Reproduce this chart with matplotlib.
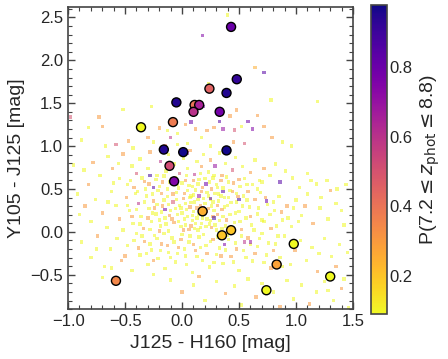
import matplotlib
matplotlib.use("Agg")
import matplotlib.pyplot as plt
from matplotlib.ticker import MultipleLocator

plt.rcParams['font.family'] = ['Liberation Sans', 'DejaVu Sans']

# selected candidates: colour J125-H160, colour Y105-J125, P(7.2<=z<=8.8)
sel_x = [0.43, 0.48, 0.24, 0.39, -0.05, 0.11, 0.15, 0.10, 0.33, -0.08, -0.36, -0.16,
         0.01, 0.39, -0.11, -0.07, 0.18, 0.43, 0.35, 0.98, 0.83, 1.30, -0.58, 0.74]
sel_y = [2.39, 1.78, 1.67, 1.62, 1.51, 1.48, 1.48, 1.40, 1.40, 1.28, 1.22, 0.96,
         0.93, 0.95, 0.77, 0.59, 0.24, 0.02, -0.04, -0.14, -0.38, -0.52, -0.57, -0.68]
sel_p = [0.80, 0.92, 0.45, 0.95, 0.95, 0.40, 0.65, 0.60, 0.78, 0.38, 0.03, 0.95,
         0.97, 0.97, 0.52, 0.75, 0.25, 0.20, 0.20, 0.05, 0.28, 0.08, 0.35, 0.05]

# full catalogue (read by eye, background cloud)
bg_points = [
    (0.40, 2.53, 0.05), (0.18, 2.29, 0.75), (0.64, 1.92, 0.25), (0.72, 1.86, 0.85), (0.78, 1.54, 0.05),
    (1.19, 1.52, 0.05), (-0.27, 1.46, 0.05), (0.23, 1.73, 0.08), (0.39, 1.59, 0.05), (0.19, 1.46, 0.8),
    (0.48, 1.42, 0.3),
    (-0.98, 1.34, 0.5), (-0.73, 1.34, 0.3), (-0.70, 1.23, 0.3), (-0.52, 1.43, 0.05), (-0.82, 1.22, 0.05),
    (-0.88, 1.07, 0.05), (-0.58, 1.02, 0.5), (-0.67, 1.00, 0.05), (-0.47, 1.06, 0.3), (-0.43, 0.98, 0.05),
    (-0.36, 1.19, 0.5), (-0.30, 1.10, 0.3), (-0.25, 1.05, 0.05), (-0.20, 1.21, 0.3), (-0.13, 1.18, 0.05),
    (-0.10, 1.10, 0.6), (-0.04, 1.15, 0.05), (0.03, 1.25, 0.3), (0.08, 1.28, 0.8), (0.12, 1.20, 0.3),
    (0.17, 1.10, 0.05), (0.22, 1.18, 0.3), (0.28, 1.22, 0.3), (0.33, 1.29, 0.85), (0.36, 1.20, 0.7),
    (0.42, 1.35, 0.3), (0.46, 1.19, 0.5), (0.52, 1.23, 0.05), (0.58, 1.29, 0.8), (0.62, 1.20, 0.75),
    (0.66, 1.36, 0.3), (0.72, 1.23, 0.3), (0.79, 1.10, 0.3), (0.88, 1.05, 0.05), (0.96, 1.00, 0.05),
    (0.25, 1.00, 0.05), (0.05, 1.03, 0.05), (-0.15, 1.00, 0.4), (0.45, 1.05, 0.3), (0.55, 1.03, 0.5),
    (-0.04, 1.02, 0.05),
    (-0.95, 0.78, 0.05), (-0.86, 0.72, 0.05), (-0.78, 0.81, 0.3), (-0.72, 0.66, 0.05), (-0.65, 0.88, 0.05),
    (-0.61, 0.74, 0.3), (-0.55, 0.62, 0.05), (-0.52, 0.91, 0.3), (-0.48, 0.55, 0.05), (-0.44, 0.77, 0.05),
    (-0.40, 0.68, 0.5), (-0.37, 0.85, 0.05), (-0.33, 0.59, 0.3), (-0.30, 0.74, 0.05), (-0.28, 0.93, 0.3),
    (-0.25, 0.52, 0.85), (-0.22, 0.66, 0.05), (-0.19, 0.82, 0.6), (-0.17, 0.58, 0.3), (-0.14, 0.71, 0.05),
    (-0.12, 0.90, 0.05), (-0.09, 0.62, 0.3), (-0.07, 0.79, 0.05), (-0.04, 0.55, 0.05), (-0.02, 0.68, 0.5),
    (0.01, 0.86, 0.05), (0.03, 0.60, 0.3), (0.05, 0.74, 0.05), (0.07, 0.95, 0.3), (0.09, 0.53, 0.05),
    (0.11, 0.67, 0.6), (0.13, 0.82, 0.05), (0.15, 0.61, 0.05), (0.17, 0.76, 0.3), (0.19, 0.90, 0.05),
    (0.21, 0.56, 0.8), (0.23, 0.70, 0.05), (0.25, 0.84, 0.3), (0.27, 0.63, 0.05), (0.29, 0.77, 0.7),
    (0.31, 0.52, 0.05), (0.33, 0.92, 0.05), (0.35, 0.66, 0.3), (0.38, 0.80, 0.05), (0.41, 0.58, 0.05),
    (0.44, 0.72, 0.5), (0.47, 0.87, 0.05), (0.50, 0.61, 0.3), (0.53, 0.76, 0.05), (0.57, 0.55, 0.05),
    (0.60, 0.69, 0.3), (0.64, 0.84, 0.05), (0.68, 0.60, 0.05), (0.72, 0.74, 0.3), (0.77, 0.66, 0.05),
    (0.82, 0.79, 0.05), (0.86, 0.58, 0.85), (0.91, 0.71, 0.05), (0.97, 0.63, 0.05), (1.03, 0.52, 0.05),
    (1.10, 0.68, 0.05), (1.18, 0.56, 0.05), (1.27, 0.60, 0.05), (1.36, 0.50, 0.05), (0.74, 0.36, 0.8),
    (-0.92, 0.44, 0.05), (-0.85, 0.30, 0.3), (-0.80, 0.12, 0.05), (-0.76, 0.38, 0.05), (-0.70, 0.22, 0.3),
    (-0.66, 0.05, 0.05), (-0.62, 0.47, 0.05), (-0.58, 0.31, 0.05), (-0.55, 0.15, 0.3), (-0.52, 0.02, 0.05),
    (-0.49, 0.40, 0.3), (-0.46, 0.25, 0.05), (-0.43, 0.10, 0.05), (-0.41, 0.45, 0.05), (-0.38, 0.33, 0.6),
    (-0.36, 0.18, 0.05), (-0.34, 0.04, 0.3), (-0.31, 0.42, 0.05), (-0.29, 0.27, 0.05), (-0.27, 0.12, 0.05),
    (-0.25, 0.36, 0.3), (-0.23, 0.21, 0.05), (-0.21, 0.48, 0.05), (-0.19, 0.07, 0.05), (-0.17, 0.30, 0.3),
    (-0.15, 0.16, 0.05), (-0.13, 0.41, 0.05), (-0.12, 0.01, 0.05), (-0.10, 0.25, 0.05), (-0.08, 0.35, 0.5),
    (-0.07, 0.11, 0.3), (-0.05, 0.46, 0.05), (-0.04, 0.20, 0.05), (-0.02, 0.31, 0.05), (-0.01, 0.06, 0.05),
    (0.01, 0.39, 0.3), (0.02, 0.15, 0.05), (0.04, 0.26, 0.05), (0.05, 0.48, 0.05), (0.06, 0.03, 0.3),
    (0.08, 0.34, 0.05), (0.09, 0.19, 0.05), (0.10, 0.43, 0.05), (0.12, 0.10, 0.05), (0.13, 0.28, 0.3),
    (0.14, 0.38, 0.05), (0.16, 0.05, 0.05), (0.17, 0.47, 0.3), (0.18, 0.16, 0.05), (0.20, 0.33, 0.05),
    (0.21, 0.24, 0.5), (0.23, 0.42, 0.05), (0.24, 0.09, 0.05), (0.26, 0.30, 0.05), (0.27, 0.18, 0.3),
    (0.29, 0.45, 0.05), (0.30, 0.02, 0.05), (0.32, 0.36, 0.05), (0.33, 0.13, 0.05), (0.35, 0.26, 0.3),
    (0.37, 0.40, 0.05), (0.38, 0.07, 0.05), (0.40, 0.31, 0.05), (0.42, 0.20, 0.05), (0.44, 0.47, 0.3),
    (0.46, 0.11, 0.05), (0.48, 0.35, 0.05), (0.50, 0.24, 0.05), (0.52, 0.03, 0.3), (0.54, 0.42, 0.05),
    (0.56, 0.16, 0.05), (0.59, 0.29, 0.05), (0.61, 0.08, 0.05), (0.64, 0.38, 0.3), (0.66, 0.21, 0.05),
    (0.69, 0.46, 0.05), (0.72, 0.12, 0.05), (0.75, 0.32, 0.05), (0.78, 0.04, 0.3), (0.81, 0.25, 0.05),
    (0.85, 0.41, 0.05), (0.88, 0.14, 0.05), (0.92, 0.30, 0.3), (0.96, 0.06, 0.05), (1.00, 0.37, 0.05),
    (1.05, 0.19, 0.05), (1.10, 0.44, 0.05), (1.15, 0.10, 0.3), (1.21, 0.28, 0.05), (1.28, 0.15, 0.05),
    (1.35, 0.33, 0.05), (1.42, 0.08, 0.05),
    (0.00, 0.22, 0.05), (0.07, 0.29, 0.3), (0.11, 0.35, 0.05), (0.15, 0.20, 0.05), (0.19, 0.28, 0.7),
    (0.22, 0.15, 0.05), (0.25, 0.38, 0.05), (0.28, 0.25, 0.05), (0.31, 0.31, 0.3), (-0.06, 0.27, 0.05),
    (-0.11, 0.19, 0.3), (0.03, 0.08, 0.05), (0.09, 0.13, 0.05), (0.14, 0.02, 0.05), (0.26, 0.05, 0.3),
    (0.36, 0.18, 0.05), (0.41, 0.40, 0.05), (-0.16, 0.37, 0.05), (-0.20, 0.14, 0.05), (-0.24, 0.28, 0.3),
    (0.25, 0.39, 0.85), (0.15, 0.42, 0.7), (0.28, 0.16, 0.9),
    (-0.88, -0.12, 0.05), (-0.80, -0.30, 0.05), (-0.74, -0.05, 0.3), (-0.68, -0.40, 0.05), (-0.63, -0.20, 0.05),
    (-0.57, -0.08, 0.05), (-0.53, -0.33, 0.3), (-0.48, -0.16, 0.05), (-0.44, -0.45, 0.05), (-0.40, -0.02, 0.05),
    (-0.37, -0.27, 0.05), (-0.33, -0.11, 0.3), (-0.30, -0.38, 0.05), (-0.27, -0.21, 0.05), (-0.24, -0.04, 0.05),
    (-0.21, -0.31, 0.05), (-0.18, -0.14, 0.3), (-0.15, -0.43, 0.05), (-0.12, -0.24, 0.05), (-0.09, -0.07, 0.05),
    (-0.06, -0.35, 0.05), (-0.03, -0.18, 0.3), (0.00, -0.03, 0.05), (0.03, -0.28, 0.05), (0.06, -0.12, 0.05),
    (0.09, -0.47, 0.05), (0.12, -0.22, 0.3), (0.15, -0.06, 0.05), (0.18, -0.33, 0.05), (0.21, -0.16, 0.05),
    (0.24, -0.41, 0.05), (0.27, -0.09, 0.3), (0.30, -0.26, 0.05), (0.33, -0.19, 0.05), (0.36, -0.37, 0.05),
    (0.40, -0.04, 0.05), (0.43, -0.29, 0.3), (0.47, -0.13, 0.05), (0.50, -0.45, 0.05), (0.54, -0.22, 0.05),
    (0.58, -0.07, 0.3), (0.62, -0.34, 0.05), (0.66, -0.17, 0.05), (0.70, -0.02, 0.05), (0.74, -0.27, 0.05),
    (0.78, -0.42, 0.3), (0.82, -0.14, 0.05), (0.86, -0.30, 0.05), (0.90, -0.05, 0.05), (0.95, -0.38, 0.05),
    (0.99, -0.22, 0.3), (1.04, -0.10, 0.05), (1.09, -0.33, 0.05), (1.14, -0.18, 0.05), (1.19, -0.46, 0.3),
    (1.25, -0.08, 0.05), (1.31, -0.29, 0.05), (1.38, -0.15, 0.05), (1.45, -0.24, 0.05), (0.55, -0.12, 0.6),
    (0.37, -0.15, 0.75),
    (-0.70, -0.53, 0.05), (-0.10, -0.56, 0.05), (0.00, -0.70, 0.3), (0.10, -0.62, 0.05), (0.20, -0.80, 0.05),
    (0.30, -0.58, 0.05), (0.38, -0.72, 0.3), (0.46, -0.63, 0.05), (0.52, -0.85, 0.05), (0.58, -0.55, 0.05),
    (0.65, -0.76, 0.3), (0.70, -0.60, 0.05), (0.80, -0.70, 0.05), (0.86, -0.87, 0.3), (0.92, -0.57, 0.05),
    (0.98, -0.78, 0.05), (1.05, -0.62, 0.05), (1.12, -0.84, 0.3), (1.18, -0.70, 0.05), (1.25, -0.58, 0.05),
    (1.33, -0.80, 0.05), (1.40, -0.66, 0.3), (1.46, -0.88, 0.05), (-0.25, -0.50, 0.05), (0.15, -0.52, 0.3),
]

# extra points in the crowded core of the cloud
bg_core = [
    (-0.45, 0.60, 0.05), (-0.42, 0.52, 0.3), (-0.39, 0.47, 0.05), (-0.35, 0.63, 0.05), (-0.32, 0.50, 0.05),
    (-0.29, 0.56, 0.3), (-0.26, 0.44, 0.05), (-0.23, 0.61, 0.05), (-0.20, 0.53, 0.05), (-0.18, 0.45, 0.3),
    (-0.16, 0.65, 0.05), (-0.13, 0.50, 0.05), (-0.11, 0.58, 0.05), (-0.08, 0.44, 0.3), (-0.06, 0.63, 0.05),
    (-0.03, 0.51, 0.05), (0.00, 0.57, 0.05), (0.02, 0.45, 0.3), (0.04, 0.66, 0.05), (0.06, 0.54, 0.05),
    (0.08, 0.42, 0.05), (0.10, 0.60, 0.3), (0.12, 0.49, 0.05), (0.14, 0.56, 0.05), (0.16, 0.68, 0.05),
    (0.18, 0.52, 0.3), (0.20, 0.62, 0.05), (0.22, 0.46, 0.05), (0.24, 0.58, 0.05), (0.26, 0.50, 0.3),
    (0.28, 0.66, 0.05), (0.30, 0.55, 0.05), (0.32, 0.44, 0.05), (0.34, 0.60, 0.3), (0.36, 0.51, 0.05),
    (0.39, 0.64, 0.05), (0.42, 0.48, 0.05), (0.45, 0.57, 0.3), (0.48, 0.45, 0.05), (0.51, 0.53, 0.05),
    (0.55, 0.62, 0.05), (0.58, 0.47, 0.3), (0.62, 0.55, 0.05), (0.66, 0.50, 0.05), (0.70, 0.58, 0.05),
    (-0.48, 0.31, 0.05), (-0.44, 0.18, 0.3), (-0.40, 0.26, 0.05), (-0.37, 0.09, 0.05), (-0.33, 0.35, 0.05),
    (-0.30, 0.16, 0.3), (-0.28, 0.03, 0.05), (-0.26, 0.22, 0.05), (-0.22, 0.32, 0.05), (-0.20, 0.01, 0.3),
    (-0.18, 0.23, 0.05), (-0.14, 0.09, 0.05), (-0.12, 0.32, 0.05), (-0.09, 0.15, 0.3), (-0.05, 0.38, 0.05),
    (-0.03, 0.12, 0.05), (-0.01, 0.28, 0.05), (0.01, 0.02, 0.3), (0.03, 0.33, 0.05), (0.05, 0.18, 0.05),
    (0.07, 0.40, 0.05), (0.08, 0.07, 0.3), (0.10, 0.24, 0.05), (0.11, 0.04, 0.05), (0.13, 0.16, 0.05),
    (0.16, 0.31, 0.3), (0.17, 0.10, 0.05), (0.19, 0.39, 0.05), (0.21, 0.06, 0.05), (0.23, 0.27, 0.3),
    (0.25, 0.13, 0.05), (0.27, 0.35, 0.05), (0.29, 0.08, 0.05), (0.31, 0.20, 0.3), (0.34, 0.42, 0.05),
    (0.35, 0.04, 0.05), (0.37, 0.29, 0.05), (0.39, 0.14, 0.3), (0.43, 0.34, 0.05), (0.45, 0.05, 0.05),
    (0.47, 0.22, 0.05), (0.49, 0.41, 0.3), (0.51, 0.12, 0.05), (0.53, 0.30, 0.05), (0.57, 0.37, 0.05),
    (0.60, 0.18, 0.3), (0.63, 0.02, 0.05), (0.67, 0.28, 0.05), (0.70, 0.14, 0.05), (0.73, 0.40, 0.3),
    (0.77, 0.20, 0.05), (0.80, 0.35, 0.05), (0.83, 0.07, 0.05), (0.87, 0.23, 0.3), (0.93, 0.16, 0.05),
    (0.98, 0.28, 0.05),
    (-0.42, -0.10, 0.05), (-0.38, -0.19, 0.3), (-0.35, -0.05, 0.05), (-0.31, -0.25, 0.05), (-0.28, -0.14, 0.05),
    (-0.25, -0.33, 0.3), (-0.22, -0.08, 0.05), (-0.19, -0.22, 0.05), (-0.16, -0.02, 0.05), (-0.13, -0.16, 0.3),
    (-0.10, -0.30, 0.05), (-0.07, -0.12, 0.05), (-0.04, -0.25, 0.05), (-0.01, -0.09, 0.3), (0.02, -0.20, 0.05),
    (0.04, -0.38, 0.05), (0.07, -0.05, 0.05), (0.10, -0.15, 0.3), (0.13, -0.29, 0.05), (0.16, -0.18, 0.05),
    (0.19, -0.03, 0.05), (0.22, -0.25, 0.3), (0.25, -0.11, 0.05), (0.28, -0.36, 0.05), (0.31, -0.06, 0.05),
    (0.34, -0.28, 0.3), (0.38, -0.21, 0.05), (0.41, -0.09, 0.05), (0.45, -0.35, 0.05), (0.48, -0.20, 0.3),
    (0.52, -0.05, 0.05), (0.56, -0.30, 0.05), (0.60, -0.15, 0.05), (0.64, -0.25, 0.3), (0.68, -0.08, 0.05),
    (0.72, -0.36, 0.05), (0.76, -0.13, 0.05), (0.80, -0.22, 0.3), (0.84, -0.05, 0.05), (0.88, -0.40, 0.05),
    (1.02, 0.12, 0.05), (1.08, 0.30, 0.3), (1.13, 0.60, 0.05), (1.22, 0.40, 0.05), (1.30, 0.48, 0.3),
    (1.40, 0.25, 0.05), (1.44, 0.55, 0.05), (1.20, -0.25, 0.05), (1.35, -0.40, 0.3), (1.42, -0.55, 0.05),
    (1.28, -0.68, 0.05), (-0.60, 0.57, 0.05), (-0.82, 0.55, 0.3), (-0.90, 0.20, 0.05), (-0.75, -0.20, 0.05),
    (-0.65, 0.35, 0.05), (-0.56, 0.80, 0.05), (-0.50, -0.28, 0.3), (-0.62, -0.42, 0.05),
    (0.50, 0.38, 0.9), (-0.15, 0.26, 0.8), (0.05, 0.92, 0.7), (0.60, -0.12, 0.7), (0.36, 0.47, 0.85),
    (-0.28, 0.66, 0.9),
]

bg_all = bg_points + bg_core
bg_x = [p[0] for p in bg_all]
bg_y = [p[1] for p in bg_all]
bg_p = [p[2] for p in bg_all]

vmin, vmax = 0.09, 0.98

fig = plt.figure(figsize=(4.48, 3.59), dpi=100)
ax = fig.add_axes([0.152, 0.139, 0.636, 0.841])
cax = fig.add_axes([0.828, 0.125, 0.036, 0.862])

ax.scatter(bg_x, bg_y, c=bg_p, cmap='plasma_r', vmin=vmin, vmax=vmax,
           s=6, marker='s', alpha=0.55, linewidths=0)
sc = ax.scatter(sel_x, sel_y, c=sel_p, cmap='plasma_r', vmin=vmin, vmax=vmax,
                s=42, edgecolors='black', linewidths=1.0, zorder=3)

ax.set_xlim(-1.0, 1.5)
ax.set_ylim(-0.9, 2.62)
ax.xaxis.set_major_locator(MultipleLocator(0.5))
ax.yaxis.set_major_locator(MultipleLocator(0.5))
ax.xaxis.set_minor_locator(MultipleLocator(0.1))
ax.yaxis.set_minor_locator(MultipleLocator(0.1))
ax.tick_params(which='both', direction='in', top=True, right=True,
               colors='#444444', labelcolor='#262626', labelsize=12)
ax.tick_params(which='major', length=5, width=1)
ax.tick_params(which='minor', length=3, width=0.8)
for sp in ax.spines.values():
    sp.set_color('#444444')
    sp.set_linewidth(1.2)

ax.set_xlabel('J125 - H160 [mag]', fontsize=14, color='#262626')
ax.set_ylabel('Y105 - J125 [mag]', fontsize=14, color='#262626')

cb = fig.colorbar(sc, cax=cax)
cb.set_ticks([0.2, 0.4, 0.6, 0.8])
cb.ax.tick_params(length=0, pad=2, labelsize=12, labelcolor='#262626')
cb.outline.set_edgecolor('#444444')
cb.outline.set_linewidth(1.2)
cb.set_label(r'P(7.2$\leq z_{\rm phot} \leq$8.8)', fontsize=14, color='#262626')

fig.savefig('out.png', dpi=100)
